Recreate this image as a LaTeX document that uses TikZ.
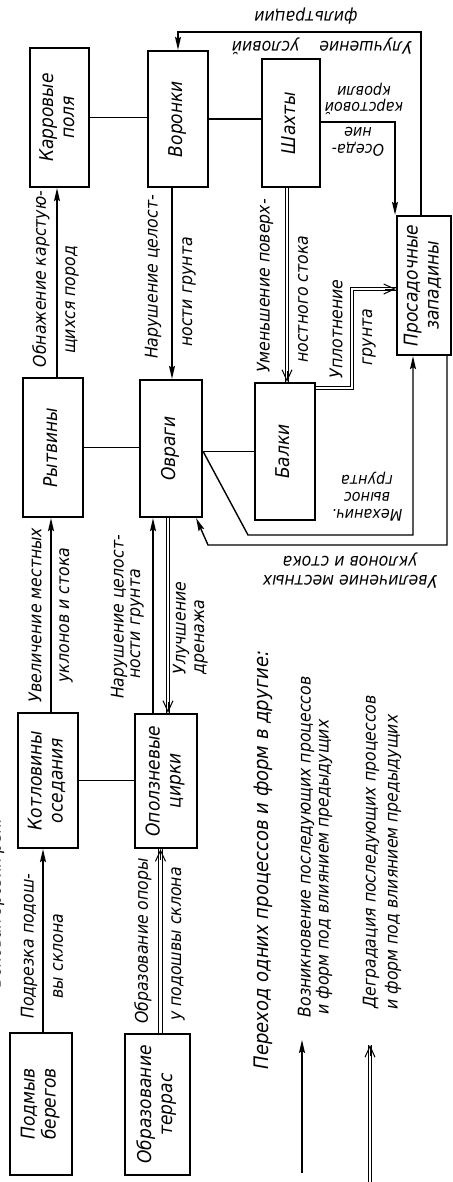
\documentclass[tikz,border=0pt]{standalone}
\usepackage{fontspec}
\usepackage{graphicx}
\setmainfont{DejaVu Sans}[FakeStretch=0.9]
\usetikzlibrary{arrows.meta}
\newcommand{\vtext}[1]{\rotatebox{90}{\begin{tabular}{@{}c@{}}#1\end{tabular}}}
\begin{document}
\begin{tikzpicture}[x=1pt,y=-1pt,
  every node/.style={font=\itshape\fontsize{17.5}{19}\selectfont},
  box/.style={draw, line width=2.3pt, inner sep=0pt, font=\itshape\fontsize{19}{21}\selectfont},
  lab/.style={rotate=90, inner sep=0pt},
  flip/.style={rotate=180, inner sep=0pt, align=center},
  conn/.style={line width=1.4pt},
  arr/.style={line width=1.4pt, -{Stealth[length=13pt,width=6pt,inset=2pt]}},
  dbl/.style={double, double distance=2.6pt, line width=0.9pt},
  dtip/.style={line width=1pt, -{Straight Barb[length=11pt,width=10pt]}},
]
\useasboundingbox (0,0) rectangle (452,1182);
\clip (0,0) rectangle (452,1182);

% boxes
\node[box, minimum width=59pt, minimum height=139pt] (K1) at (59.5,117.5) {\vtext{Карровые\\поля}};
\node[box, minimum width=60pt, minimum height=136pt] (V) at (178,119) {\vtext{Воронки}};
\node[box, minimum width=58pt, minimum height=128pt] (Sh) at (291,123) {\vtext{Шахты}};
\node[box, minimum width=54pt, minimum height=139pt] (P) at (424,285.5) {\vtext{Просадочные\\западины}};
\node[box, minimum width=60pt, minimum height=139pt] (R) at (53,447.5) {\vtext{Рытвины}};
\node[box, minimum width=62pt, minimum height=137pt] (O) at (171,448.5) {\vtext{Овраги}};
\node[box, minimum width=60pt, minimum height=137pt] (B) at (285,451.5) {\vtext{Балки}};
\node[box, minimum width=60pt, minimum height=135pt] (KO) at (48,780.5) {\vtext{Котловины\\оседания}};
\node[box, minimum width=62pt, minimum height=134pt] (OC) at (166,781) {\vtext{Оползневые\\цирки}};
\node[box, minimum width=62pt, minimum height=142pt] (PB) at (41,1104) {\vtext{Подмыв\\берегов}};
\node[box, minimum width=65pt, minimum height=141pt] (OT) at (157.5,1104.5) {\vtext{Образование\\террас}};

% plain links
\draw[conn] (K1.east) -- (K1.east -| V.west);
\draw[conn] (V.east) -- (V.east -| Sh.west);
\draw[conn] (R.east) -- (R.east -| O.west);
\draw[conn] ([yshift=-3pt]O.east) -- ([yshift=-3pt]O.east -| B.west);
\draw[conn] (KO.east) -- (KO.east -| OC.west);

% single vertical arrows
\draw[arr] ([xshift=4pt]R.north) -- ([xshift=4pt]R.north |- K1.south);
\draw[arr] ([xshift=-6pt]V.south) -- ([xshift=-6pt]V.south |- O.north);
\draw[arr] ([xshift=3pt]KO.north) -- ([xshift=3pt]KO.north |- R.south);
\draw[arr] ([xshift=-13pt]OC.north) -- ([xshift=-13pt]OC.north |- O.south);
\draw[arr] ([xshift=2pt]PB.north) -- ([xshift=2pt]PB.north |- KO.south);

% double arrows
\coordinate (d1) at ([xshift=-4pt]Sh.south |- B.north);
\draw[dbl] ([xshift=-4pt]Sh.south) -- (d1);
\draw[dtip] ([yshift=11pt]d1) -- (d1);
\coordinate (d2) at ([xshift=-3pt]O.south |- OC.north);
\draw[dbl] ([xshift=-3pt]O.south) -- (d2);
\draw[dtip] ([yshift=11pt]d2) -- (d2);
\coordinate (d3) at ([xshift=3pt]OT.north |- OC.south);
\draw[dbl] ([xshift=3pt]OT.north) -- (d3);
\draw[dtip] ([yshift=-11pt]d3) -- (d3);
\coordinate (c4a) at (352,388);
\coordinate (c4b) at (352,289);
\coordinate (d4) at (c4b -| P.west);
\draw[dbl] (B.east |- c4a) -- (c4a) -- (c4b) -- (d4);
\draw[dtip] ([xshift=-11pt]d4) -- (d4);

% routed single connectors
\coordinate (c5) at (395,122);
\draw[arr] (Sh.east |- c5) -- (c5) -- (c5 |- P.north);
\coordinate (c6a) at (421,32);
\coordinate (c6b) at (178,32);
\draw[arr] (c6a |- P.north) -- (c6a) -- (c6b) -- (c6b |- V.north);
\coordinate (c12a) at (248,535);
\coordinate (c12b) at (413,535);
\draw[arr] ([yshift=-3pt]O.east) -- (c12a) -- (c12b) -- (c12b |- P.south);
\coordinate (c13a) at (447,545);
\coordinate (c13b) at (208,545);
\draw[arr] (c13a |- P.south) -- (c13a) -- (c13b) -- ([xshift=-7pt]O.south east);

% legend arrows
\coordinate (l1s) at (302,1173);
\coordinate (l1e) at (302,1040);
\draw[arr] (l1s) -- (l1e);
\coordinate (l2s) at (370,1182);
\coordinate (l2e) at (370,1045);
\draw[dbl] (l2s) -- (l2e);
\draw[dtip] ([yshift=-11pt]l2e) -- (l2e);

% labels
\node[lab] (t1) at (41,279) {Обнажение карстую-};
\node[lab] (t2) at (72,300) {щихся пород};
\node[lab] (t3) at (153,277) {Нарушение целост-};
\node[lab] (t4) at (189,292) {ности грунта};
\node[lab] (t5) at (265,286) {Уменьшение поверх-};
\node[lab] (t6) at (303,299) {ностного стока};
\node[lab] (t7) at (336,329) {Уплотнение};
\node[lab] (t8) at (369,337) {грунта};
\node[lab] (t9) at (35,615) {Увеличение местных};
\node[lab] (t10) at (66,615) {уклонов и стока};
\node[lab] (t11) at (119,617) {Нарушение целост-};
\node[lab] (t12) at (137,624) {ности грунта};
\node[lab] (t13) at (181,628) {Улучшение};
\node[lab] (t14) at (201,637) {дренажа};
\node[lab] (t15) at (29,946) {Подрезка подош-};
\node[lab] (t16) at (58,956) {вы склона};
\node[lab] (t17) at (143,941) {Образование опоры};
\node[lab] (t18) at (178,944) {у подошвы склона};
\node[lab, font=\itshape\fontsize{20}{22}\selectfont] (t19) at (263,860) {Переход одних процессов и форм в другие:};
\node[lab] (t20) at (306,847) {Возникновение последующих процессов};
\node[lab] (t21) at (324,867) {и форм под влиянием предыдущих};
\node[lab] (t22) at (371,852) {Деградация последующих процессов};
\node[lab] (t23) at (393,862) {и форм под влиянием предыдущих};
\node[lab] (t0) at (-4,903) {Боковая эрозия рек:};

\node[flip] (f1) at (306,16) {фильтрации};
\node[flip] (f2) at (322,46) {Улучшение\hspace{20pt}условий};
\node[flip, font=\itshape\fontsize{16}{16}\selectfont] (f3) at (364,99) {карстовой\\кровли};
\node[flip, font=\itshape\fontsize{16}{17}\selectfont] (f4) at (358,142) {Оседа-\\ние};
\node[flip, font=\itshape\fontsize{16}{17}\selectfont] (f5) at (367,497) {Механич.\\вынос\\грунта};
\node[flip] (f6) at (350,571) {Увеличение местных\\уклонов и стока};
\end{tikzpicture}
\end{document}
